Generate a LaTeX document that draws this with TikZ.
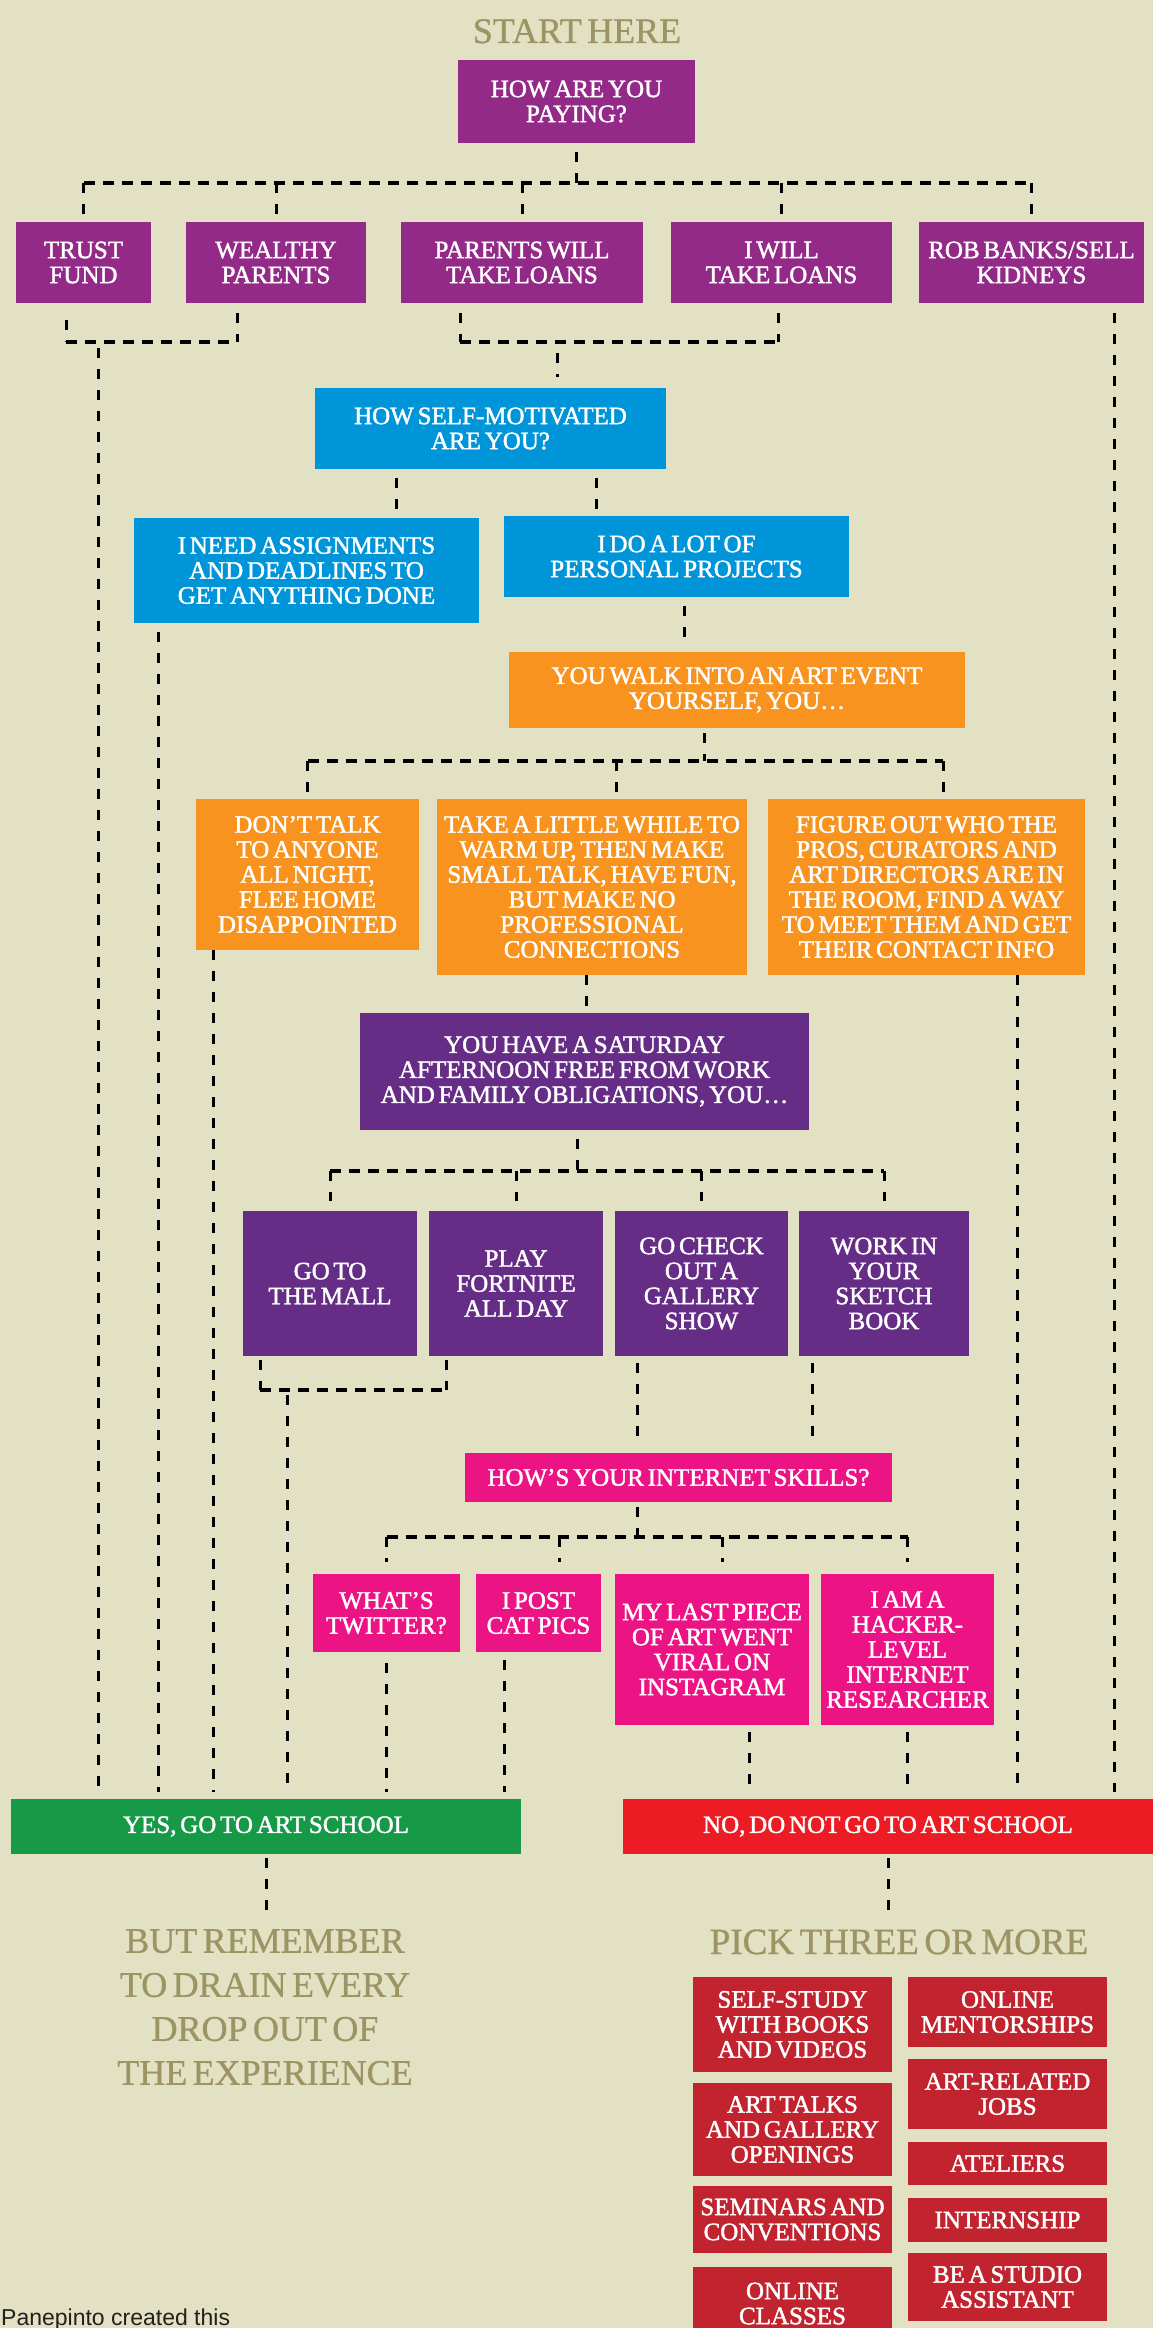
\documentclass[tikz,border=0pt]{standalone}
\usepackage{fontspec}
\setmainfont{Liberation Serif}[WordSpace=0.6]
\newfontfamily\boxft{Liberation Serif}[WordSpace=0.6, FakeBold=1.6]
\newfontfamily\headft{Liberation Serif}[WordSpace=0.6, FakeBold=0.8]
\newfontfamily\sansft{Liberation Sans}
\usetikzlibrary{calc}
\definecolor{bg}{HTML}{E2E1C3}
\definecolor{olive}{HTML}{9C9463}
\definecolor{cA}{HTML}{932A87}
\definecolor{cBlue}{HTML}{0094D9}
\definecolor{cOrange}{HTML}{F7931E}
\definecolor{cPurple}{HTML}{662D87}
\definecolor{cPink}{HTML}{EC1384}
\definecolor{cGreen}{HTML}{169A48}
\definecolor{cNo}{HTML}{ED1C24}
\definecolor{cRed}{HTML}{C1232F}
\definecolor{credit}{HTML}{231F20}
\begin{document}
\begin{tikzpicture}[x=1pt,y=-1pt,
  box/.style={fill=#1, text=white, inner sep=0pt, align=center, font={\boxft\fontsize{25}{25}\selectfont}},
  wh/.style 2 args={minimum width=#1pt, minimum height=#2pt},
  vcon/.style={line width=3pt, dash pattern=on 10pt off 11pt, draw=black},
  hbus/.style={line width=4pt, dash pattern=on 11pt off 8pt, draw=black},
  gapA/.style={shorten <=9pt},
  gapB/.style={shorten >=7pt},
  heading/.style={text=olive, inner sep=0pt, align=center}]
\fill[bg] (0,0) rectangle (1153,2328);
\useasboundingbox (0,0) rectangle (1153,2328);

% ---------- nodes ----------
\node[heading, anchor=base, font={\headft\fontsize{36}{36}\selectfont}] (start) at (577,43) {START HERE};
\node[box=cA, wh={237}{83}] (q1) at (576.5,101.5) {HOW ARE YOU\\PAYING?};

\node[box=cA, wh={135}{81}] (tf) at (83.5,262.5) {TRUST\\FUND};
\node[box=cA, wh={180}{81}] (wp) at (276,262.5) {WEALTHY\\PARENTS};
\node[box=cA, wh={242}{81}] (pl) at (522,262.5) {PARENTS WILL\\TAKE LOANS};
\node[box=cA, wh={221}{81}] (il) at (781.5,262.5) {I WILL\\TAKE LOANS};
\node[box=cA, wh={225}{81}] (rb) at (1031.5,262.5) {ROB BANKS/SELL\\KIDNEYS};

\node[box=cBlue, wh={351}{81}] (sm) at (490.5,428.5) {HOW SELF-MOTIVATED\\ARE YOU?};
\node[box=cBlue, wh={345}{105}] (na) at (306.5,570.5) {I NEED ASSIGNMENTS\\AND DEADLINES TO\\GET ANYTHING DONE};
\node[box=cBlue, wh={345}{81}] (dl) at (676.5,556.5) {I DO A LOT OF\\PERSONAL PROJECTS};

\node[box=cOrange, wh={456}{76}] (ae) at (737,690) {YOU WALK INTO AN ART EVENT\\YOURSELF, YOU…};
\node[box=cOrange, wh={223}{151}] (dt) at (307.5,874.5) {DON’T TALK\\TO ANYONE\\ALL NIGHT,\\FLEE HOME\\DISAPPOINTED};
\node[box=cOrange, wh={310}{176}] (tl) at (592,887) {TAKE A LITTLE WHILE TO\\WARM UP, THEN MAKE\\SMALL TALK, HAVE FUN,\\BUT MAKE NO\\PROFESSIONAL\\CONNECTIONS};
\node[box=cOrange, wh={317}{176}] (fo) at (926.5,887) {FIGURE OUT WHO THE\\PROS, CURATORS AND\\ART DIRECTORS ARE IN\\THE ROOM, FIND A WAY\\TO MEET THEM AND GET\\THEIR CONTACT INFO};

\node[box=cPurple, wh={449}{117}] (sa) at (584.5,1071.5) {YOU HAVE A SATURDAY\\AFTERNOON FREE FROM WORK\\AND FAMILY OBLIGATIONS, YOU…};
\node[box=cPurple, wh={174}{145}] (gm) at (330,1283.5) {GO TO\\THE MALL};
\node[box=cPurple, wh={174}{145}] (pf) at (516,1283.5) {PLAY\\FORTNITE\\ALL DAY};
\node[box=cPurple, wh={173}{145}] (gc) at (701.5,1283.5) {GO CHECK\\OUT A\\GALLERY\\SHOW};
\node[box=cPurple, wh={170}{145}] (wi) at (884,1283.5) {WORK IN\\YOUR\\SKETCH\\BOOK};

\node[box=cPink, wh={427}{49}] (is) at (678.5,1477.5) {HOW’S YOUR INTERNET SKILLS?};
\node[box=cPink, wh={147}{78}] (wt) at (386.5,1613) {WHAT’S\\TWITTER?};
\node[box=cPink, wh={125}{78}] (cp) at (538.5,1613) {I POST\\CAT PICS};
\node[box=cPink, wh={194}{151}] (lp) at (712,1649.5) {MY LAST PIECE\\OF ART WENT\\VIRAL ON\\INSTAGRAM};
\node[box=cPink, wh={173}{151}] (hk) at (907.5,1649.5) {I AM A\\HACKER-\\LEVEL\\INTERNET\\RESEARCHER};

\node[box=cGreen, wh={510}{55}] (yes) at (266,1826.5) {YES, GO TO ART SCHOOL};
\node[box=cNo, wh={530}{55}] (no) at (888,1826.5) {NO, DO NOT GO TO ART SCHOOL};

\node[heading, anchor=north, font={\headft\fontsize{36}{44}\selectfont}] (rem) at (265,1929) {BUT REMEMBER\\TO DRAIN EVERY\\DROP OUT OF\\THE EXPERIENCE};
\node[heading, anchor=base, font={\headft\fontsize{37}{37}\selectfont}] (pick) at (899,1954) {PICK THREE OR MORE};

\node[box=cRed, wh={199}{95}] (ss) at (792.5,2024.5) {SELF-STUDY\\WITH BOOKS\\AND VIDEOS};
\node[box=cRed, wh={199}{93}] (at) at (792.5,2129.5) {ART TALKS\\AND GALLERY\\OPENINGS};
\node[box=cRed, wh={199}{67}] (se) at (792.5,2219.5) {SEMINARS AND\\CONVENTIONS};
\node[box=cRed, wh={199}{73}] (oc) at (792.5,2303.5) {ONLINE\\CLASSES};
\node[box=cRed, wh={199}{70}] (om) at (1007.5,2012) {ONLINE\\MENTORSHIPS};
\node[box=cRed, wh={199}{70}] (ar) at (1007.5,2094) {ART-RELATED\\JOBS};
\node[box=cRed, wh={199}{43}] (ate) at (1007.5,2163.5) {ATELIERS};
\node[box=cRed, wh={199}{44}] (ins) at (1007.5,2220) {INTERNSHIP};
\node[box=cRed, wh={199}{68}] (bs) at (1007.5,2287) {BE A STUDIO\\ASSISTANT};

\node[anchor=base west, inner sep=0pt, text=credit, font={\sansft\fontsize{23}{23}\selectfont}] (credit) at (1,2325) {Panepinto created this};

% ---------- connectors ----------
% level 1
\coordinate (j1) at (576.5,183);
\draw[vcon, gapA] (q1.south) -- (j1);
\draw[hbus] (j1 -| tf.north) -- (j1 -| rb.north);
\foreach \n in {tf,wp,pl,il,rb} \draw[vcon, gapB] (j1 -| \n.north) -- (\n.north);

% trust fund / wealthy parents bracket
\coordinate (k1) at (66,342);
\coordinate (k2) at (237,342);
\coordinate (j2) at (98,342);
\draw[vcon, shorten <=17pt] (k1 |- tf.south) -- (k1);
\draw[vcon, shorten <=10pt] (k2 |- wp.south) -- (k2);
\draw[hbus] (k1) -- (k2);
\draw[vcon, shorten <=6pt, gapB] (j2) -- (j2 |- yes.north);

% loans bracket
\coordinate (k3) at (460,342);
\coordinate (k4) at (778,342);
\coordinate (j3) at (557,342);
\draw[vcon, shorten <=10pt] (k3 |- pl.south) -- (k3);
\draw[vcon, shorten <=10pt] (k4 |- il.south) -- (k4);
\draw[hbus] (k3) -- (k4);
\draw[vcon, shorten <=11pt, shorten >=11pt] (j3) -- (j3 |- sm.north);

% rob banks
\path ([xshift=82.5pt]rb.south) coordinate (r1);
\draw[vcon, shorten <=10pt, gapB] (r1) -- (r1 |- no.north);

% self-motivated
\path ([xshift=-94.5pt]sm.south) coordinate (s1);
\path ([xshift=105.5pt]sm.south) coordinate (s2);
\draw[vcon, gapA, shorten >=5pt] (s1) -- (s1 |- na.north);
\draw[vcon, gapA, shorten >=5pt] (s2) -- (s2 |- dl.north);
\path ([xshift=-148.5pt]na.south) coordinate (n1);
\draw[vcon, gapA, gapB] (n1) -- (n1 |- yes.north);
\path ([xshift=7.5pt]dl.south) coordinate (d1);
\draw[vcon, gapA, shorten >=10pt] (d1) -- (d1 |- ae.north);

% art event
\path ([xshift=-33pt]ae.south) coordinate (a1);
\coordinate (j4) at (704,761);
\draw[vcon, shorten <=5pt] (a1) -- (j4);
\path ([xshift=24pt]tl.north) coordinate (t0);
\path ([xshift=16.5pt]fo.north) coordinate (f0);
\draw[hbus] (j4 -| dt.north) -- (j4 -| f0);
\draw[vcon, gapB] (j4 -| dt.north) -- (dt.north);
\draw[vcon, gapB] (j4 -| t0) -- (t0);
\draw[vcon, gapB] (j4 -| f0) -- (f0);
\path ([xshift=-94.5pt]dt.south) coordinate (dt1);
\draw[vcon, gapB] (dt1) -- (dt1 |- yes.north);
\path ([xshift=-6pt]tl.south) coordinate (tl1);
\draw[vcon, shorten >=3pt] (tl1) -- (tl1 |- sa.north);
\path ([xshift=90.5pt]fo.south) coordinate (fo1);
\draw[vcon, gapB] (fo1) -- (fo1 |- no.north);

% saturday
\path ([xshift=-7.5pt]sa.south) coordinate (sa1);
\coordinate (j5) at (577,1171);
\draw[vcon, gapA] (sa1) -- (j5);
\draw[hbus] (j5 -| gm.north) -- (j5 -| wi.north);
\foreach \n in {gm,pf,gc,wi} \draw[vcon, shorten >=10pt] (j5 -| \n.north) -- (\n.north);

% mall / fortnite bracket
\path ([xshift=-70pt]gm.south) coordinate (g1);
\path ([xshift=-70pt]pf.south) coordinate (p1);
\coordinate (j6) at (287,1390);
\draw[vcon, shorten <=4pt] (g1) -- (g1 |- j6);
\draw[vcon, shorten <=4pt] (p1) -- (p1 |- j6);
\draw[hbus] (g1 |- j6) -- (p1 |- j6);
\draw[vcon, shorten <=5pt, gapB] (j6) -- (j6 |- yes.north);

% gallery / sketchbook
\path ([xshift=-64.5pt]gc.south) coordinate (gc1);
\path ([xshift=-72pt]wi.south) coordinate (wi1);
\draw[vcon, shorten <=7pt, shorten >=10pt] (gc1) -- (gc1 |- is.north);
\draw[vcon, shorten <=7pt, shorten >=10pt] (wi1) -- (wi1 |- is.north);

% internet skills
\path ([xshift=-41.5pt]is.south) coordinate (is1);
\coordinate (j7) at (637,1537);
\draw[vcon, shorten <=5pt] (is1) -- (j7);
\path ([xshift=20.5pt]cp.north) coordinate (cp0);
\path ([xshift=10pt]lp.north) coordinate (lp0);
\draw[hbus] (j7 -| wt.north) -- (j7 -| hk.north);
\draw[vcon, shorten >=12pt] (j7 -| wt.north) -- (wt.north);
\draw[vcon, shorten >=12pt] (j7 -| cp0) -- (cp0);
\draw[vcon, shorten >=12pt] (j7 -| lp0) -- (lp0);
\draw[vcon, shorten >=12pt] (j7 -| hk.north) -- (hk.north);

\draw[vcon, shorten <=11pt, gapB] (wt.south) -- (wt.south |- yes.north);
\path ([xshift=-34.5pt]cp.south) coordinate (cp1);
\draw[vcon, shorten <=8pt, gapB] (cp1) -- (cp1 |- yes.north);
\path ([xshift=37pt]lp.south) coordinate (lp1);
\draw[vcon, shorten <=7pt, shorten >=12pt] (lp1) -- (lp1 |- no.north);
\draw[vcon, shorten <=7pt, shorten >=12pt] (hk.south) -- (hk.south |- no.north);

% outcomes
\draw[vcon, shorten <=4pt, shorten >=8pt] (yes.south) -- (yes.south |- rem.north);
\draw[vcon, shorten <=4pt, shorten >=8pt] (no.south) -- (no.south |- rem.north);
\end{tikzpicture}
\end{document}
